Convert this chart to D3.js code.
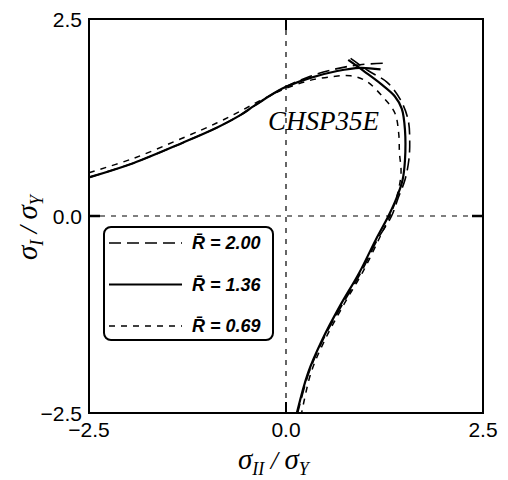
<!DOCTYPE html>
<html>
<head>
<meta charset="utf-8">
<script src="https://cdn.jsdelivr.net/npm/d3@7"></script>
<style>
  html, body { margin: 0; padding: 0; background: #fff; }
  svg { display: block; }
</style>
</head>
<body>
<svg id="chart" width="508" height="480"></svg>
<script>
// Axis ticks (both axes share the same normalised range)
const xTicks = [-2.5, 0.0, 2.5];
const yTicks = [-2.5, 0.0, 2.5];
const specimen = "CHSP35E";

// Legend entries: ratio R̄ for each curve
const ratios = ["2.00", "1.36", "0.69"];

// Interaction curves [σII/σY, σI/σY]
// R̄ = 2.00 (long dash): upper branch and right branch
const r200Upper = [[-2.5,0.49],[-1.94,0.67],[-1.31,0.93],[-0.88,1.12],[-0.58,1.28],[-0.4,1.40],[-0.04,1.62],[0.30,1.77],[0.65,1.87],[0.94,1.92],[1.25,1.94]];
const r200Right = [[0.82,2.0],[1.05,1.84],[1.28,1.70],[1.45,1.48],[1.55,1.22],[1.57,0.95],[1.56,0.72],[1.51,0.46],[1.42,0.22],[1.34,0.0],[1.16,-0.30],[0.95,-0.72],[0.70,-1.15],[0.47,-1.57],[0.29,-1.99],[0.15,-2.49]];
// R̄ = 1.36 (solid)
const r136Upper = [[-2.5,0.49],[-1.94,0.67],[-1.31,0.93],[-0.88,1.12],[-0.58,1.28],[-0.4,1.40],[-0.04,1.62],[0.30,1.75],[0.65,1.84],[0.94,1.88],[1.2,1.86]];
const r136Right = [[0.79,1.98],[1.00,1.83],[1.20,1.68],[1.38,1.52],[1.47,1.36],[1.51,1.09],[1.51,0.71],[1.48,0.46],[1.40,0.22],[1.30,0.0],[1.14,-0.30],[0.93,-0.72],[0.68,-1.15],[0.46,-1.57],[0.28,-1.99],[0.14,-2.49]];
// R̄ = 0.69 (short dash), one continuous curve
const r069 = [[-2.5,0.55],[-1.94,0.73],[-1.31,0.99],[-0.88,1.18],[-0.58,1.33],[-0.3,1.48],[0,1.62],[0.3,1.72],[0.6,1.77],[0.82,1.78],[1.02,1.71],[1.23,1.51],[1.38,1.31],[1.43,1.05],[1.44,0.80],[1.46,0.55],[1.42,0.30],[1.34,0.05],[1.20,-0.25],[0.98,-0.70],[0.73,-1.13],[0.50,-1.56],[0.32,-1.98],[0.20,-2.49]];

const styles = {
  "2.00": { width: 1.6, dash: "12,6" },
  "1.36": { width: 2.2, dash: null },
  "0.69": { width: 1.5, dash: "6,6" }
};
const curves = [
  { key: "2.00", pts: r200Upper }, { key: "2.00", pts: r200Right },
  { key: "1.36", pts: r136Upper }, { key: "1.36", pts: r136Right },
  { key: "0.69", pts: r069 }
];

const svg = d3.select("#chart");
const plotL = 89, plotR = 483, plotT = 19, plotB = 413;
const x = d3.scaleLinear().domain([-2.5, 2.5]).range([plotL, plotR]);
const y = d3.scaleLinear().domain([-2.5, 2.5]).range([plotB, plotT]);

const sans = "'Liberation Sans', Arial, sans-serif";
const serif = "'Liberation Serif', 'Times New Roman', serif";

// Zero reference lines
svg.append("line").attr("x1", x(0)).attr("x2", x(0)).attr("y1", plotT).attr("y2", plotB)
  .attr("stroke", "#000").attr("stroke-width", 1.2).attr("stroke-dasharray", "5,6");
svg.append("line").attr("x1", plotL).attr("x2", plotR).attr("y1", y(0)).attr("y2", y(0))
  .attr("stroke", "#000").attr("stroke-width", 1.2).attr("stroke-dasharray", "5,6");

// Curves
const line = d3.line().x(d => x(d[0])).y(d => y(d[1])).curve(d3.curveCatmullRom.alpha(0.5));
svg.append("g").selectAll("path").data(curves).join("path")
  .attr("d", d => line(d.pts))
  .attr("fill", "none").attr("stroke", "#000")
  .attr("stroke-width", d => styles[d.key].width)
  .attr("stroke-dasharray", d => styles[d.key].dash);

// Frame
svg.append("rect").attr("x", plotL).attr("y", plotT).attr("width", plotR - plotL).attr("height", plotB - plotT)
  .attr("fill", "none").attr("stroke", "#000").attr("stroke-width", 2);

// Inward ticks at zero on all four sides
const tickLen = 11;
svg.append("line").attr("x1", plotL).attr("x2", plotL + tickLen).attr("y1", y(0)).attr("y2", y(0)).attr("stroke", "#000").attr("stroke-width", 2.5);
svg.append("line").attr("x1", plotR - tickLen).attr("x2", plotR).attr("y1", y(0)).attr("y2", y(0)).attr("stroke", "#000").attr("stroke-width", 2.5);
svg.append("line").attr("x1", x(0)).attr("x2", x(0)).attr("y1", plotT).attr("y2", plotT + tickLen).attr("stroke", "#000").attr("stroke-width", 2);
svg.append("line").attr("x1", x(0)).attr("x2", x(0)).attr("y1", plotB - tickLen).attr("y2", plotB).attr("stroke", "#000").attr("stroke-width", 2);

// Tick labels
const fmt = d3.format(".1f");
svg.append("g").selectAll("text").data(xTicks).join("text")
  .attr("x", d => x(d)).attr("y", plotB + 24)
  .attr("text-anchor", "middle").attr("font-family", sans).attr("font-size", 21)
  .text(d => fmt(d));
svg.append("g").selectAll("text").data(yTicks).join("text")
  .attr("x", plotL - 7).attr("y", d => y(d)).attr("dy", "0.36em")
  .attr("text-anchor", "end").attr("font-family", sans).attr("font-size", 21)
  .text(d => fmt(d));

// Axis titles
function sigmaTitle(g, sub) {
  const t = g.append("text").attr("font-family", serif).attr("font-style", "italic").attr("font-size", 29);
  t.append("tspan").text("σ");
  t.append("tspan").attr("font-size", 18).attr("dy", 6).text(sub);
  t.append("tspan").attr("dy", -6).attr("font-size", 26).text(" / ");
  t.append("tspan").text("σ");
  t.append("tspan").attr("font-size", 18).attr("dy", 6).text("Y");
  return t;
}
sigmaTitle(svg.append("g"), "II").attr("x", 238).attr("y", 469);
sigmaTitle(svg.append("g").attr("transform", "translate(37,260) rotate(-90)"), "I").attr("x", 0).attr("y", 0);

// Specimen label
svg.append("text").attr("x", 268).attr("y", 130)
  .attr("font-family", serif).attr("font-style", "italic").attr("font-size", 27)
  .text(specimen);

// Legend
const lg = svg.append("g");
lg.append("rect").attr("x", 104).attr("y", 227).attr("width", 169).attr("height", 113)
  .attr("rx", 7).attr("fill", "#fff").attr("stroke", "#000").attr("stroke-width", 2);
const rowY = d3.scalePoint().domain(ratios).range([243, 326]);
ratios.forEach(k => {
  lg.append("line").attr("x1", 109).attr("x2", 182).attr("y1", rowY(k)).attr("y2", rowY(k))
    .attr("stroke", "#000").attr("stroke-width", styles[k].width).attr("stroke-dasharray", styles[k].dash);
  const t = lg.append("text").attr("x", 192).attr("y", rowY(k)).attr("dy", "0.36em")
    .attr("font-family", sans).attr("font-style", "italic").attr("font-weight", "bold").attr("font-size", 18);
  t.append("tspan").text("R\u0304");
  t.append("tspan").text(" = " + k);
});
</script>
</body>
</html>
